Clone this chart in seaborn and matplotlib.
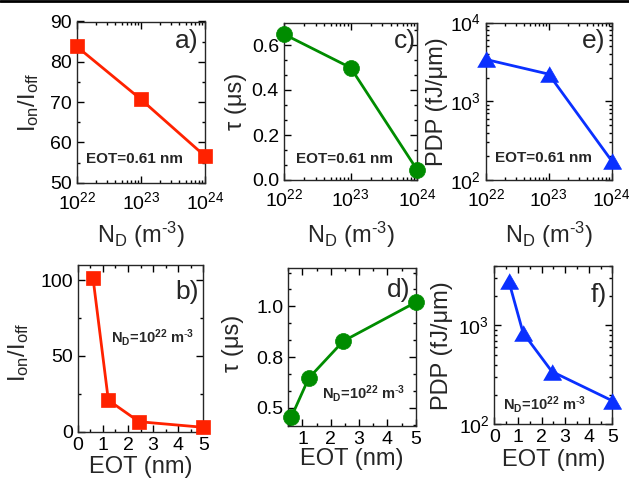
import numpy as np
import pandas as pd
import matplotlib
matplotlib.use("Agg")
import matplotlib.pyplot as plt
import matplotlib.ticker as mticker
from matplotlib.lines import Line2D
import seaborn as sns

# ---- data ----
nd = [1e22, 1e23, 1e24]
eot = [0.61, 1.22, 2.44, 5.0]
ion_nd = [83.8, 70.7, 56.6]
tau_nd = [0.648, 0.499, 0.044]
pdp_nd = [3400, 2210, 175]
ion_eot = [101.3, 20.8, 6.6, 2.9]
tau_eot = [0.565, 0.717, 0.863, 1.016]
pdp_eot = [2830, 842, 342, 173]

nd_ticks = [1e22, 1e23, 1e24]
nd_ticklabels = [r'$\mathregular{10^{22}}$', r'$\mathregular{10^{23}}$', r'$\mathregular{10^{24}}$']

sns.set_style('ticks')
plt.rcParams['font.family'] = ['Liberation Sans', 'DejaVu Sans']
plt.rcParams['mathtext.fontset'] = 'custom'
plt.rcParams['mathtext.rm'] = 'Liberation Sans'
plt.rcParams['mathtext.it'] = 'Liberation Sans:italic'
plt.rcParams['mathtext.bf'] = 'Liberation Sans:bold'

RED = '#ff2200'
GREEN = '#008c00'
BLUE = '#0a30ff'
TRI = [(-1, -0.866), (1, -0.866), (0, 0.866)]

W, H = 629, 479
fig = plt.figure(figsize=(W / 100, H / 100), dpi=100)


def add_ax(l, r, t, b):
    return fig.add_axes([l / W, 1 - b / H, (r - l) / W, (b - t) / H])


ax_a = add_ax(76.7, 205, 21.5, 182.7)
ax_c = add_ax(284, 417.3, 22.5, 180)
ax_e = add_ax(485.7, 611.7, 22.5, 180)
ax_b = add_ax(77.7, 203.3, 265, 431.7)
ax_d = add_ax(288.3, 415.7, 268.3, 425.7)
ax_f = add_ax(494.3, 612.3, 266, 424.3)

TICK_FS = 14
LABEL_FS = 17
PANEL_FS = 19
LW = 2.0

df_nd = pd.DataFrame({'nd': nd, 'ion': ion_nd, 'tau': tau_nd, 'pdp': pdp_nd})
df_eot = pd.DataFrame({'eot': eot, 'ion': ion_eot, 'tau': tau_eot, 'pdp': pdp_eot})


def style(ax):
    for s in ax.spines.values():
        s.set_linewidth(1.0)
        s.set_visible(True)
    ax.tick_params(which='both', direction='in', top=True, right=True,
                   labelsize=TICK_FS, width=1.0, colors='black', pad=3.6)
    ax.tick_params(which='major', length=5)
    ax.tick_params(which='minor', length=2.5)


def line(ax, df, x, y, marker, color, ms):
    sns.lineplot(data=df, x=x, y=y, ax=ax, color=color, marker=marker,
                 markersize=ms, markeredgecolor=color, markeredgewidth=0.5,
                 linewidth=LW, clip_on=False, zorder=5)


# --- a ---
line(ax_a, df_nd, 'nd', 'ion', 's', RED, 10)
ax_a.set_xscale('log')
ax_a.set_xlim(1e22, 1e24)
ax_a.set_ylim(50, 90)
ax_a.set_yticks([50, 60, 70, 80, 90])
ax_a.yaxis.set_minor_locator(mticker.MultipleLocator(5))
ax_a.set_ylabel(r'$\mathregular{I_{on}/I_{off}}$', fontsize=LABEL_FS)

# --- c ---
line(ax_c, df_nd, 'nd', 'tau', 'o', GREEN, 11.5)
ax_c.set_xscale('log')
ax_c.set_xlim(1e22, 1e24)
ax_c.set_ylim(0, 0.7)
ax_c.set_yticks([0.0, 0.2, 0.4, 0.6])
ax_c.set_yticklabels(['0.0', '0.2', '0.4', '0.6'])
ax_c.yaxis.set_minor_locator(mticker.MultipleLocator(0.2 / 3))
ax_c.set_ylabel('τ (μs)', fontsize=LABEL_FS)

# --- e ---
line(ax_e, df_nd, 'nd', 'pdp', TRI, BLUE, 13)
ax_e.set_xscale('log')
ax_e.set_yscale('log')
ax_e.set_xlim(1e22, 1e24)
ax_e.set_ylim(1e2, 1e4)
ax_e.set_yticks([1e2, 1e3, 1e4])
ax_e.set_yticklabels([r'$\mathregular{10^{2}}$', r'$\mathregular{10^{3}}$', r'$\mathregular{10^{4}}$'])
ax_e.set_ylabel('PDP (fJ/μm)', fontsize=LABEL_FS)

# --- b ---
line(ax_b, df_eot, 'eot', 'ion', 's', RED, 10)
ax_b.set_xlim(0, 5)
ax_b.set_ylim(0, 110)
ax_b.set_yticks([0, 50, 100])
ax_b.yaxis.set_minor_locator(mticker.MultipleLocator(25))
ax_b.set_ylabel(r'$\mathregular{I_{on}/I_{off}}$', fontsize=LABEL_FS)

# --- d ---
line(ax_d, df_eot, 'eot', 'tau', 'o', GREEN, 11.5)
ax_d.set_xlim(0.5, 5)
ax_d.set_ylim(0.53, 1.15)
ax_d.set_xticks([1, 2, 3, 4, 5])
ax_d.set_yticks([0.6, 0.8, 1.0])
ax_d.set_yticklabels(['0.5', '0.8', '1.0'])
ax_d.yaxis.set_minor_locator(mticker.FixedLocator([0.6 + k * 0.2 / 3 for k in range(-1, 9)]))
ax_d.set_ylabel('τ (μs)', fontsize=LABEL_FS)

# --- f ---
line(ax_f, df_eot, 'eot', 'pdp', TRI, BLUE, 13)
ax_f.set_yscale('log')
ax_f.set_xlim(0, 5)
ax_f.set_ylim(1e2, 4000)
ax_f.set_yticks([1e2, 1e3])
ax_f.set_yticklabels([r'$\mathregular{10^{2}}$', r'$\mathregular{10^{3}}$'])
ax_f.set_ylabel('PDP (fJ/μm)', fontsize=LABEL_FS)

for ax in (ax_a, ax_b, ax_c, ax_d, ax_e, ax_f):
    style(ax)

nd_label = r'N$_\mathregular{D}$ (m$^{\text{-}\mathregular{3}}$)'
for ax in (ax_a, ax_c, ax_e):
    ax.set_xticks(nd_ticks)
    ax.set_xticklabels(nd_ticklabels)
    ax.xaxis.set_minor_locator(mticker.LogLocator(base=10, subs=np.arange(2, 10)))
    ax.xaxis.set_minor_formatter(mticker.NullFormatter())
    ax.set_xlabel(nd_label, fontsize=LABEL_FS)
    ax.tick_params(axis='x', which='both', pad=6)

for ax in (ax_b, ax_f):
    ax.set_xticks([0, 1, 2, 3, 4, 5])
for ax in (ax_b, ax_d, ax_f):
    ax.xaxis.set_minor_locator(mticker.MultipleLocator(0.5))
    ax.set_xlabel('EOT (nm)', fontsize=LABEL_FS)

for ax in (ax_e, ax_f):
    ax.yaxis.set_minor_locator(mticker.LogLocator(base=10, subs=np.arange(2, 10)))
    ax.yaxis.set_minor_formatter(mticker.NullFormatter())

# label positions (baseline placement)
xlab_pos = {ax_a: -0.372, ax_c: -0.399, ax_e: -0.399, ax_b: -0.25, ax_d: -0.25, ax_f: -0.263}
ylab_pos = {ax_a: (-0.325, 0.5), ax_c: (-0.315, 0.5), ax_e: (-0.336, 0.5),
            ax_b: (-0.42, 0.475), ax_d: (-0.387, 0.523), ax_f: (-0.39, 0.5)}
for ax, yy in xlab_pos.items():
    ax.xaxis.label.set_va('baseline')
    ax.xaxis.set_label_coords(0.5, yy)
for ax, (xx, yy) in ylab_pos.items():
    ax.yaxis.label.set_va('baseline')
    ax.yaxis.set_label_coords(xx, yy)

# annotations
ann_eot = 'EOT=0.61 nm'
ann_nd = r'$\mathbf{N_D}$=10$^{\mathbf{22}}$ m$^{\text{-}\mathbf{3}}$'
ax_a.text(0.072, 0.12, ann_eot, transform=ax_a.transAxes, fontsize=11, fontweight='bold')
ax_c.text(0.09, 0.107, ann_eot, transform=ax_c.transAxes, fontsize=11, fontweight='bold')
ax_e.text(0.074, 0.116, ann_eot, transform=ax_e.transAxes, fontsize=11, fontweight='bold')
for ax, (x, y) in ((ax_b, (0.265, 0.534)), (ax_d, (0.267, 0.174)), (ax_f, (0.071, 0.09))):
    ax.text(x, y, ann_nd, transform=ax.transAxes, fontsize=10.5, fontweight='bold')

# panel labels
for ax, lab, (x, y) in ((ax_a, 'a)', (0.948, 0.835)), (ax_c, 'c)', (0.99, 0.84)),
                        (ax_e, 'e)', (0.947, 0.837)), (ax_b, 'b)', (0.966, 0.794)),
                        (ax_d, 'd)', (0.955, 0.82)), (ax_f, 'f)', (0.953, 0.775))):
    ax.text(x, y, lab, transform=ax.transAxes, fontsize=PANEL_FS, ha='right', va='baseline')

# top border line
fig.add_artist(Line2D([0, 1], [1 - 1 / H, 1 - 1 / H], transform=fig.transFigure,
                      color='black', linewidth=2.0))

fig.savefig('out.png', dpi=100)
